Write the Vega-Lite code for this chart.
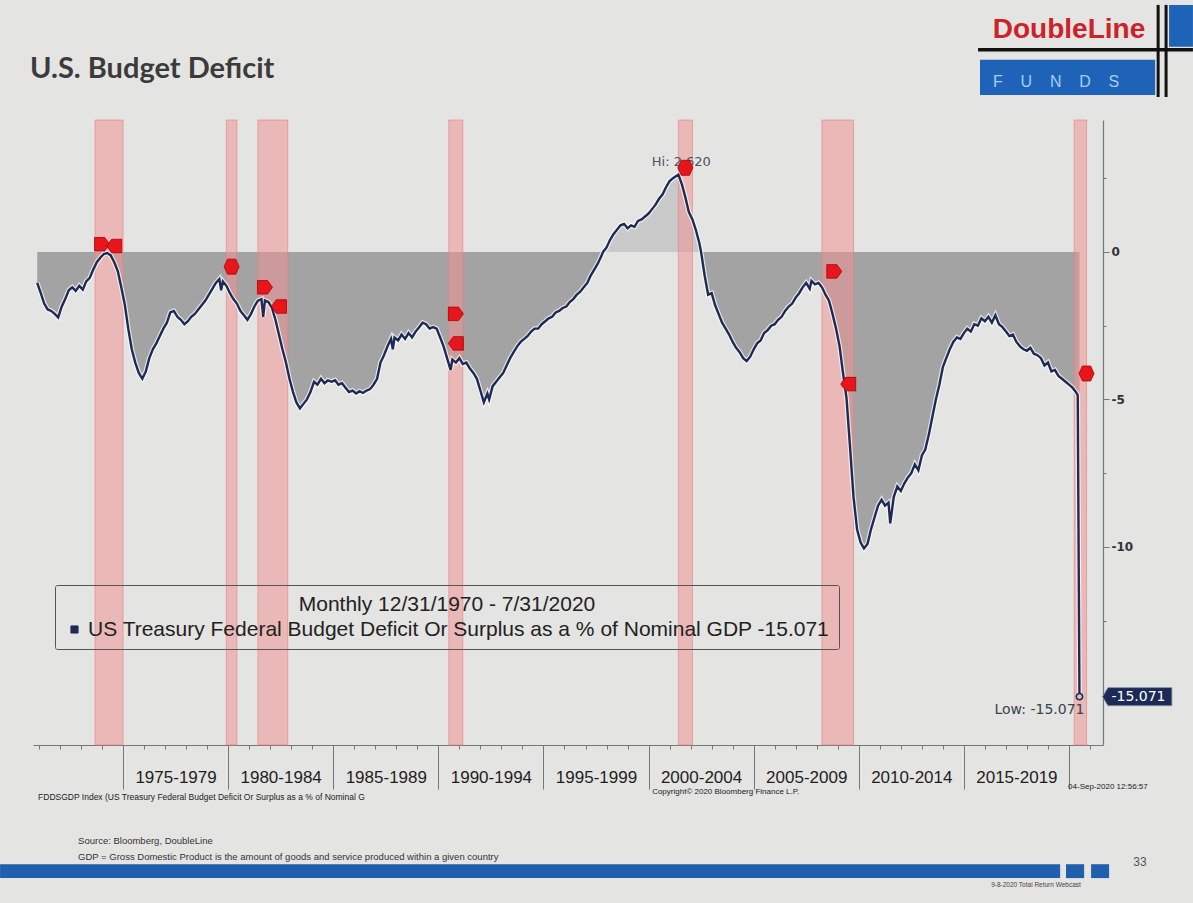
{
"$schema": "https://vega.github.io/schema/vega-lite/v6.json",
"width": 1070,
"height": 625,
"autosize": {"type": "none"},
"padding": {"left": 33, "top": 120, "right": 90, "bottom": 158},
"background": "#e4e4e2",
"config": {"view": {"stroke": null}, "axis": {"grid": false}},
"datasets": {
"series": [
{"d":"1970-12","v":-1.05},{"d":"1971-02","v":-1.4},{"d":"1971-04","v":-1.75},{"d":"1971-06","v":-1.95},{"d":"1971-08","v":-2.0},{"d":"1971-10","v":-2.1},{"d":"1971-12","v":-2.22},
{"d":"1972-02","v":-1.85},{"d":"1972-04","v":-1.6},{"d":"1972-06","v":-1.3},{"d":"1972-08","v":-1.2},{"d":"1972-10","v":-1.32},{"d":"1972-12","v":-1.15},
{"d":"1973-02","v":-1.28},{"d":"1973-04","v":-1.0},{"d":"1973-06","v":-0.88},{"d":"1973-08","v":-0.6},{"d":"1973-10","v":-0.35},{"d":"1973-12","v":-0.2},
{"d":"1974-02","v":-0.07},{"d":"1974-04","v":-0.04},{"d":"1974-06","v":-0.12},{"d":"1974-08","v":-0.35},{"d":"1974-10","v":-0.65},{"d":"1974-12","v":-1.2},
{"d":"1975-02","v":-1.8},{"d":"1975-04","v":-2.6},{"d":"1975-06","v":-3.3},{"d":"1975-08","v":-3.75},{"d":"1975-10","v":-4.1},{"d":"1975-12","v":-4.3},
{"d":"1976-02","v":-4.05},{"d":"1976-04","v":-3.6},{"d":"1976-06","v":-3.3},{"d":"1976-08","v":-3.1},{"d":"1976-10","v":-2.85},{"d":"1976-12","v":-2.6},
{"d":"1977-02","v":-2.4},{"d":"1977-04","v":-2.05},{"d":"1977-06","v":-2.0},{"d":"1977-08","v":-2.2},{"d":"1977-10","v":-2.3},{"d":"1977-12","v":-2.45},
{"d":"1978-02","v":-2.35},{"d":"1978-04","v":-2.2},{"d":"1978-06","v":-2.1},{"d":"1978-08","v":-1.95},{"d":"1978-10","v":-1.8},{"d":"1978-12","v":-1.65},
{"d":"1979-02","v":-1.45},{"d":"1979-04","v":-1.25},{"d":"1979-06","v":-1.05},{"d":"1979-08","v":-0.92},{"d":"1979-09","v":-1.3},{"d":"1979-10","v":-1.0},{"d":"1979-12","v":-1.15},
{"d":"1980-02","v":-1.4},{"d":"1980-04","v":-1.6},{"d":"1980-06","v":-1.75},{"d":"1980-08","v":-2.0},{"d":"1980-10","v":-2.15},{"d":"1980-12","v":-2.3},
{"d":"1981-02","v":-2.1},{"d":"1981-04","v":-1.85},{"d":"1981-06","v":-1.65},{"d":"1981-08","v":-1.6},{"d":"1981-09","v":-2.2},{"d":"1981-10","v":-1.65},{"d":"1981-12","v":-1.7},
{"d":"1982-02","v":-1.9},{"d":"1982-04","v":-2.3},{"d":"1982-06","v":-2.8},{"d":"1982-08","v":-3.3},{"d":"1982-10","v":-3.75},{"d":"1982-12","v":-4.3},
{"d":"1983-02","v":-4.75},{"d":"1983-04","v":-5.1},{"d":"1983-06","v":-5.3},{"d":"1983-08","v":-5.15},{"d":"1983-10","v":-5.0},{"d":"1983-12","v":-4.75},
{"d":"1984-02","v":-4.4},{"d":"1984-04","v":-4.5},{"d":"1984-06","v":-4.3},{"d":"1984-08","v":-4.45},{"d":"1984-10","v":-4.35},{"d":"1984-12","v":-4.4},
{"d":"1985-02","v":-4.35},{"d":"1985-04","v":-4.5},{"d":"1985-06","v":-4.45},{"d":"1985-08","v":-4.6},{"d":"1985-10","v":-4.75},{"d":"1985-12","v":-4.7},
{"d":"1986-02","v":-4.8},{"d":"1986-04","v":-4.72},{"d":"1986-06","v":-4.78},{"d":"1986-08","v":-4.7},{"d":"1986-10","v":-4.65},{"d":"1986-12","v":-4.5},
{"d":"1987-02","v":-4.3},{"d":"1987-04","v":-3.75},{"d":"1987-06","v":-3.5},{"d":"1987-08","v":-3.2},{"d":"1987-10","v":-2.95},{"d":"1987-11","v":-3.3},{"d":"1987-12","v":-2.9},
{"d":"1988-02","v":-3.0},{"d":"1988-04","v":-2.8},{"d":"1988-06","v":-2.95},{"d":"1988-08","v":-2.75},{"d":"1988-10","v":-2.9},{"d":"1988-12","v":-2.7},
{"d":"1989-02","v":-2.55},{"d":"1989-04","v":-2.4},{"d":"1989-06","v":-2.45},{"d":"1989-08","v":-2.6},{"d":"1989-10","v":-2.55},{"d":"1989-12","v":-2.6},
{"d":"1990-02","v":-2.9},{"d":"1990-04","v":-3.2},{"d":"1990-06","v":-3.6},{"d":"1990-08","v":-4.0},{"d":"1990-09","v":-3.65},{"d":"1990-11","v":-3.75},
{"d":"1991-01","v":-3.6},{"d":"1991-03","v":-3.8},{"d":"1991-05","v":-3.75},{"d":"1991-07","v":-3.95},{"d":"1991-09","v":-4.1},{"d":"1991-11","v":-4.3},
{"d":"1992-01","v":-4.7},{"d":"1992-03","v":-5.1},{"d":"1992-05","v":-4.8},{"d":"1992-06","v":-5.0},{"d":"1992-08","v":-4.55},{"d":"1992-10","v":-4.4},{"d":"1992-12","v":-4.25},
{"d":"1993-02","v":-4.1},{"d":"1993-04","v":-3.85},{"d":"1993-06","v":-3.6},{"d":"1993-08","v":-3.4},{"d":"1993-10","v":-3.2},{"d":"1993-12","v":-3.05},
{"d":"1994-02","v":-2.95},{"d":"1994-04","v":-2.85},{"d":"1994-06","v":-2.7},{"d":"1994-08","v":-2.6},{"d":"1994-10","v":-2.6},{"d":"1994-12","v":-2.45},
{"d":"1995-02","v":-2.35},{"d":"1995-04","v":-2.25},{"d":"1995-06","v":-2.2},{"d":"1995-08","v":-2.05},{"d":"1995-10","v":-2.0},{"d":"1995-12","v":-1.9},
{"d":"1996-02","v":-1.85},{"d":"1996-04","v":-1.7},{"d":"1996-06","v":-1.6},{"d":"1996-08","v":-1.45},{"d":"1996-10","v":-1.35},{"d":"1996-12","v":-1.2},
{"d":"1997-02","v":-1.05},{"d":"1997-04","v":-0.8},{"d":"1997-06","v":-0.6},{"d":"1997-08","v":-0.4},{"d":"1997-10","v":-0.15},{"d":"1997-11","v":0},
{"d":"1998-01","v":0.15},{"d":"1998-03","v":0.4},{"d":"1998-05","v":0.6},{"d":"1998-07","v":0.75},{"d":"1998-09","v":0.9},{"d":"1998-11","v":0.95},
{"d":"1999-01","v":0.8},{"d":"1999-03","v":0.9},{"d":"1999-05","v":0.85},{"d":"1999-07","v":1.05},{"d":"1999-09","v":1.1},{"d":"1999-11","v":1.2},
{"d":"2000-01","v":1.3},{"d":"2000-03","v":1.45},{"d":"2000-05","v":1.6},{"d":"2000-07","v":1.8},{"d":"2000-09","v":1.95},{"d":"2000-11","v":2.2},
{"d":"2001-01","v":2.4},{"d":"2001-03","v":2.5},{"d":"2001-06","v":2.62},{"d":"2001-08","v":2.3},{"d":"2001-10","v":1.85},{"d":"2001-12","v":1.35},
{"d":"2002-02","v":1.1},{"d":"2002-04","v":0.75},{"d":"2002-06","v":0.3},{"d":"2002-07","v":0},{"d":"2002-09","v":-0.8},{"d":"2002-11","v":-1.45},
{"d":"2003-01","v":-1.4},{"d":"2003-03","v":-1.8},{"d":"2003-05","v":-2.1},{"d":"2003-07","v":-2.4},{"d":"2003-09","v":-2.6},{"d":"2003-11","v":-2.8},
{"d":"2004-01","v":-3.05},{"d":"2004-03","v":-3.25},{"d":"2004-05","v":-3.4},{"d":"2004-07","v":-3.6},{"d":"2004-09","v":-3.7},{"d":"2004-11","v":-3.55},
{"d":"2005-01","v":-3.3},{"d":"2005-03","v":-3.1},{"d":"2005-05","v":-3.0},{"d":"2005-07","v":-2.75},{"d":"2005-09","v":-2.65},{"d":"2005-11","v":-2.5},
{"d":"2006-01","v":-2.45},{"d":"2006-03","v":-2.3},{"d":"2006-05","v":-2.2},{"d":"2006-07","v":-2.0},{"d":"2006-09","v":-1.85},{"d":"2006-11","v":-1.75},
{"d":"2007-01","v":-1.55},{"d":"2007-03","v":-1.4},{"d":"2007-05","v":-1.2},{"d":"2007-07","v":-1.05},{"d":"2007-09","v":-1.25},{"d":"2007-10","v":-0.98},{"d":"2007-12","v":-1.1},
{"d":"2008-02","v":-1.05},{"d":"2008-04","v":-1.2},{"d":"2008-06","v":-1.45},{"d":"2008-08","v":-1.65},{"d":"2008-10","v":-2.1},{"d":"2008-12","v":-2.6},
{"d":"2009-02","v":-3.2},{"d":"2009-04","v":-4.1},{"d":"2009-06","v":-4.95},{"d":"2009-08","v":-6.6},{"d":"2009-10","v":-8.3},{"d":"2009-12","v":-9.4},
{"d":"2010-02","v":-9.85},{"d":"2010-04","v":-10.05},{"d":"2010-06","v":-9.9},{"d":"2010-08","v":-9.4},{"d":"2010-10","v":-9.0},{"d":"2010-12","v":-8.6},
{"d":"2011-02","v":-8.4},{"d":"2011-04","v":-8.6},{"d":"2011-06","v":-8.5},{"d":"2011-07","v":-9.2},{"d":"2011-09","v":-8.3},{"d":"2011-11","v":-7.95},
{"d":"2012-01","v":-8.1},{"d":"2012-03","v":-7.85},{"d":"2012-05","v":-7.65},{"d":"2012-07","v":-7.5},{"d":"2012-09","v":-7.2},{"d":"2012-11","v":-7.4},
{"d":"2013-01","v":-6.9},{"d":"2013-03","v":-6.7},{"d":"2013-05","v":-6.2},{"d":"2013-07","v":-5.6},{"d":"2013-09","v":-5.0},{"d":"2013-11","v":-4.5},
{"d":"2014-01","v":-3.9},{"d":"2014-03","v":-3.6},{"d":"2014-05","v":-3.3},{"d":"2014-07","v":-3.05},{"d":"2014-09","v":-2.9},{"d":"2014-11","v":-2.95},
{"d":"2015-01","v":-2.75},{"d":"2015-03","v":-2.6},{"d":"2015-05","v":-2.7},{"d":"2015-07","v":-2.45},{"d":"2015-09","v":-2.5},{"d":"2015-11","v":-2.25},
{"d":"2016-01","v":-2.35},{"d":"2016-03","v":-2.2},{"d":"2016-05","v":-2.4},{"d":"2016-07","v":-2.15},{"d":"2016-09","v":-2.45},{"d":"2016-11","v":-2.55},
{"d":"2017-01","v":-2.7},{"d":"2017-03","v":-2.85},{"d":"2017-05","v":-2.8},{"d":"2017-07","v":-3.05},{"d":"2017-09","v":-3.2},{"d":"2017-11","v":-3.3},
{"d":"2018-01","v":-3.35},{"d":"2018-03","v":-3.25},{"d":"2018-05","v":-3.45},{"d":"2018-07","v":-3.5},{"d":"2018-09","v":-3.6},{"d":"2018-11","v":-3.85},
{"d":"2019-01","v":-3.75},{"d":"2019-03","v":-4.05},{"d":"2019-05","v":-4.0},{"d":"2019-07","v":-4.2},{"d":"2019-09","v":-4.3},{"d":"2019-11","v":-4.4},
{"d":"2020-01","v":-4.5},{"d":"2020-03","v":-4.6},{"d":"2020-05","v":-4.75},{"d":"2020-06","v":-4.85},{"d":"2020-07","v":-15.071}
],
"bands": [
{"s":"1973-09","e":"1975-01"},{"s":"1979-12","e":"1980-06"},{"s":"1981-06","e":"1982-11"},{"s":"1990-07","e":"1991-03"},{"s":"2001-06","e":"2002-02"},{"s":"2008-04","e":"2009-10"},{"s":"2020-04","e":"2020-11"}
],
"flags": [
{"d":"1974-01","v":0.26,"k":"r"},{"d":"1974-08","v":0.2,"k":"l"},{"d":"1980-03","v":-0.5,"k":"d"},{"d":"1981-10","v":-1.2,"k":"r"},{"d":"1982-06","v":-1.85,"k":"l"},
{"d":"1990-11","v":-2.1,"k":"r"},{"d":"1990-11","v":-3.1,"k":"l"},{"d":"2001-10","v":2.85,"k":"d"},{"d":"2008-11","v":-0.66,"k":"r"},{"d":"2009-07","v":-4.48,"k":"l"},{"d":"2020-11","v":-4.12,"k":"d"}
]
},
"layer": [
{"data": {"name": "series"}, "transform": [{"filter": "datum.v <= 0"}],
 "mark": {"type": "area", "color": "#a3a3a3", "opacity": 1},
 "encoding": {
  "x": {"field": "d", "type": "temporal", "title": null,
   "scale": {"type": "utc", "nice": false, "domain": [{"year": 1970, "month": 9, "date": 19, "utc": true}, {"year": 2021, "month": 8, "date": 14, "utc": true}]},
   "axis": {"tickCount": {"interval": "year", "step": 1}, "labelOverlap": false, "labelFlush": false,
    "labelExpr": "utcyear(datum.value) % 5 == 0 && utcyear(datum.value) < 2020 ? utcyear(datum.value) + '-' + (utcyear(datum.value) + 4) : ''",
    "labelOffset": 52.5, "labelPadding": -20, "labelFont": "Liberation Sans", "labelFontSize": 17, "labelColor": "#1e1e1e",
    "tickSize": {"condition": {"test": "utcyear(datum.value) % 5 == 0", "value": 44}, "value": 4},
    "tickColor": "#777", "domainColor": "#777", "domainWidth": 1.2}},
  "y": {"field": "v", "type": "quantitative", "title": null,
   "scale": {"domain": [-16.71, 4.47], "nice": false, "zero": false},
   "axis": {"orient": "right", "values": [2.5, 0, -2.5, -5, -7.5, -10, -12.5],
    "labelExpr": "datum.value == 0 ? '0' : (datum.value % 5 == 0 ? '-' + abs(datum.value) : '')",
    "tickSize": {"condition": {"test": "datum.value % 5 == 0", "value": 6}, "value": 3},
    "labelFont": "DejaVu Sans", "labelFontSize": 12, "labelFontWeight": "bold", "labelColor": "#333", "labelPadding": 2,
    "tickColor": "#777", "domainColor": "#777", "domainWidth": 1.2}},
  "y2": {"datum": 0}}},
{"data": {"name": "series"}, "transform": [{"filter": "datum.v >= 0"}],
 "mark": {"type": "area", "color": "#c9c9c9", "opacity": 1},
 "encoding": {"x": {"field": "d", "type": "temporal"}, "y": {"field": "v", "type": "quantitative"}, "y2": {"datum": 0}}},
{"data": {"name": "bands"},
 "mark": {"type": "rect", "fill": "#ef9494", "fillOpacity": 0.55, "stroke": "#e58080", "strokeOpacity": 0.6, "strokeWidth": 1},
 "encoding": {"x": {"field": "s", "type": "temporal"}, "x2": {"field": "e"}}},
{"data": {"name": "series"},
 "mark": {"type": "line", "color": "#ffffff", "strokeWidth": 4.8, "opacity": 0.7},
 "encoding": {"x": {"field": "d", "type": "temporal"}, "y": {"field": "v", "type": "quantitative"}}},
{"data": {"name": "series"},
 "mark": {"type": "line", "strokeWidth": 2.4},
 "encoding": {"x": {"field": "d", "type": "temporal"}, "y": {"field": "v", "type": "quantitative"},
  "color": {"datum": "US Treasury Federal Budget Deficit Or Surplus as a % of Nominal GDP -15.071",
   "scale": {"range": ["#1c2a55"]},
   "legend": {"orient": "none", "legendX": 22, "legendY": 465, "title": "Monthly 12/31/1970 - 7/31/2020",
    "titleFont": "Liberation Sans", "titleFontSize": 21, "titleFontWeight": "normal", "titleColor": "#222", "titleAnchor": "middle", "titlePadding": 4, "titleLimit": 0,
    "labelFont": "Liberation Sans", "labelFontSize": 21, "labelColor": "#222", "labelLimit": 0, "labelOffset": 3,
    "symbolType": "square", "symbolSize": 50, "symbolFillColor": "#1c2a55", "symbolStrokeColor": "#1c2a55", "symbolStrokeWidth": 1,
    "strokeColor": "#555", "padding": 9, "cornerRadius": 2}}}},
{"data": {"name": "series"}, "transform": [{"filter": "datum.v == 2.62"}],
 "mark": {"type": "text", "text": "Hi: 2.620", "dx": 3, "dy": -13, "align": "center", "baseline": "middle", "font": "DejaVu Sans", "fontSize": 13, "color": "#4b5262"},
 "encoding": {"x": {"field": "d", "type": "temporal"}, "y": {"field": "v", "type": "quantitative"}}},
{"data": {"name": "flags"},
 "mark": {"type": "point", "filled": true, "fill": "#e8161c", "stroke": "#a80000", "strokeWidth": 0.8, "size": 225, "opacity": 1},
 "encoding": {"x": {"field": "d", "type": "temporal"}, "y": {"field": "v", "type": "quantitative"},
  "shape": {"field": "k", "type": "nominal", "legend": null,
   "scale": {"domain": ["r", "l", "d"], "range": ["M-1,-0.9L0.35,-0.9L1,0L0.35,0.9L-1,0.9Z", "M1,-0.9L-0.35,-0.9L-1,0L-0.35,0.9L1,0.9Z", "M-1,0L-0.55,-1L0.55,-1L1,0L0.55,1L-0.55,1Z"]}}}},
{"data": {"name": "series"}, "transform": [{"filter": "datum.v < -15"}],
 "mark": {"type": "point", "shape": "circle", "filled": true, "fill": "#c8c8c8", "stroke": "#1c2a55", "strokeWidth": 1.5, "size": 40, "opacity": 1},
 "encoding": {"x": {"field": "d", "type": "temporal"}, "y": {"field": "v", "type": "quantitative"}}},
{"data": {"name": "series"}, "transform": [{"filter": "datum.v < -15"}],
 "mark": {"type": "text", "text": "Low: -15.071", "dx": 5, "dy": 13, "align": "right", "baseline": "middle", "font": "DejaVu Sans", "fontSize": 14, "color": "#3c4150"},
 "encoding": {"x": {"field": "d", "type": "temporal"}, "y": {"field": "v", "type": "quantitative"}}},
{"data": {"name": "series"}, "transform": [{"filter": "datum.v < -15"}],
 "mark": {"type": "point", "shape": "M-4.1,0L-3.5,-1L3.6,-1L3.6,1L-3.5,1Z", "filled": true, "fill": "#1c2a55", "stroke": "#7d88a0", "strokeWidth": 0.8, "size": 324, "xOffset": 60, "opacity": 1},
 "encoding": {"x": {"field": "d", "type": "temporal"}, "y": {"field": "v", "type": "quantitative"}}},
{"data": {"name": "series"}, "transform": [{"filter": "datum.v < -15"}],
 "mark": {"type": "text", "text": "-15.071", "dx": 59, "align": "center", "baseline": "middle", "font": "DejaVu Sans", "fontSize": 14, "color": "#ffffff"},
 "encoding": {"x": {"field": "d", "type": "temporal"}, "y": {"field": "v", "type": "quantitative"}}},
{"data": {"values": [{}]},
 "layer": [
  {"mark": {"type": "text", "text": "U.S. Budget Deficit", "align": "left", "baseline": "alphabetic", "font": "Lato", "fontSize": 29, "fontWeight": "bold", "color": "#3b3b3b"},
   "encoding": {"x": {"datum": {"year": 1970, "month": 7, "date": 29, "utc": true}, "type": "temporal"}, "y": {"datum": 5.9}}},
  {"mark": {"type": "text", "text": "DoubleLine", "align": "center", "baseline": "alphabetic", "font": "Liberation Sans", "fontSize": 28, "fontWeight": "bold", "color": "#cc2229"},
   "encoding": {"x": {"datum": {"year": 2020, "month": 1, "date": 1, "utc": true}, "type": "temporal"}, "y": {"datum": 7.25}}},
  {"mark": {"type": "rule", "color": "#111111", "strokeWidth": 3.5},
   "encoding": {"x": {"datum": {"year": 2015, "month": 9, "date": 4, "utc": true}, "type": "temporal"}, "x2": {"datum": {"year": 2025, "month": 11, "date": 24, "utc": true}}, "y": {"datum": 6.85}}},
  {"mark": {"type": "rect", "color": "#1e63b8", "opacity": 1},
   "encoding": {"x": {"datum": {"year": 2015, "month": 10, "date": 8, "utc": true}, "type": "temporal"}, "x2": {"datum": {"year": 2024, "month": 2, "date": 6, "utc": true}}, "y": {"datum": 6.51}, "y2": {"datum": 5.32}}},
  {"mark": {"type": "rect", "color": "#1e63b8", "opacity": 1},
   "encoding": {"x": {"datum": {"year": 2024, "month": 10, "date": 5, "utc": true}, "type": "temporal"}, "x2": {"datum": {"year": 2025, "month": 11, "date": 24, "utc": true}}, "y": {"datum": 8.37}, "y2": {"datum": 6.95}}},
  {"mark": {"type": "rule", "color": "#111111", "strokeWidth": 3},
   "encoding": {"x": {"datum": {"year": 2024, "month": 3, "date": 29, "utc": true}, "type": "temporal"}, "y": {"datum": 8.37}, "y2": {"datum": 5.25}}},
  {"mark": {"type": "rule", "color": "#111111", "strokeWidth": 3},
   "encoding": {"x": {"datum": {"year": 2024, "month": 8, "date": 14, "utc": true}, "type": "temporal"}, "y": {"datum": 8.37}, "y2": {"datum": 5.25}}},
  {"mark": {"type": "text", "text": "F\u00a0\u00a0\u00a0\u00a0U\u00a0\u00a0\u00a0\u00a0N\u00a0\u00a0\u00a0\u00a0D\u00a0\u00a0\u00a0\u00a0S", "align": "center", "baseline": "alphabetic", "font": "Liberation Sans", "fontSize": 16, "color": "#a9cdf2"},
   "encoding": {"x": {"datum": {"year": 2019, "month": 5, "date": 22, "utc": true}, "type": "temporal"}, "y": {"datum": 5.59}}},
  {"mark": {"type": "text", "text": "FDDSGDP Index (US Treasury Federal Budget Deficit Or Surplus as a % of Nominal G", "align": "left", "baseline": "alphabetic", "font": "Liberation Sans", "fontSize": 8.5, "color": "#222"},
   "encoding": {"x": {"datum": {"year": 1970, "month": 12, "date": 16, "utc": true}, "type": "temporal"}, "y": {"datum": -18.58}}},
  {"mark": {"type": "text", "text": "Copyright\u00a9 2020 Bloomberg Finance L.P.", "align": "left", "baseline": "alphabetic", "font": "Liberation Sans", "fontSize": 8, "color": "#222"},
   "encoding": {"x": {"datum": {"year": 2000, "month": 3, "date": 3, "utc": true}, "type": "temporal"}, "y": {"datum": -18.37}}},
  {"mark": {"type": "text", "text": "04-Sep-2020 12:56:57", "align": "left", "baseline": "alphabetic", "font": "Liberation Sans", "fontSize": 8, "color": "#222"},
   "encoding": {"x": {"datum": {"year": 2019, "month": 12, "date": 17, "utc": true}, "type": "temporal"}, "y": {"datum": -18.2}}},
  {"mark": {"type": "text", "text": "Source: Bloomberg, DoubleLine", "align": "left", "baseline": "alphabetic", "font": "Liberation Sans", "fontSize": 9.5, "color": "#333"},
   "encoding": {"x": {"datum": {"year": 1972, "month": 11, "date": 10, "utc": true}, "type": "temporal"}, "y": {"datum": -20.05}}},
  {"mark": {"type": "text", "text": "GDP = Gross Domestic Product is the amount of goods and service produced within a given country", "align": "left", "baseline": "alphabetic", "font": "Liberation Sans", "fontSize": 9.5, "color": "#333"},
   "encoding": {"x": {"datum": {"year": 1972, "month": 11, "date": 10, "utc": true}, "type": "temporal"}, "y": {"datum": -20.61}}},
  {"mark": {"type": "rect", "color": "#1f5fae", "opacity": 1},
   "encoding": {"x": {"datum": {"year": 1969, "month": 2, "date": 24, "utc": true}, "type": "temporal"}, "x2": {"datum": {"year": 2019, "month": 7, "date": 31, "utc": true}}, "y": {"datum": -20.75}, "y2": {"datum": -21.22}}},
  {"mark": {"type": "rect", "color": "#1f5fae", "opacity": 1},
   "encoding": {"x": {"datum": {"year": 2019, "month": 11, "date": 10, "utc": true}, "type": "temporal"}, "x2": {"datum": {"year": 2020, "month": 9, "date": 20, "utc": true}}, "y": {"datum": -20.75}, "y2": {"datum": -21.22}}},
  {"mark": {"type": "rect", "color": "#1f5fae", "opacity": 1},
   "encoding": {"x": {"datum": {"year": 2021, "month": 1, "date": 19, "utc": true}, "type": "temporal"}, "x2": {"datum": {"year": 2021, "month": 11, "date": 28, "utc": true}}, "y": {"datum": -20.75}, "y2": {"datum": -21.22}}},
  {"mark": {"type": "text", "text": "33", "align": "center", "baseline": "middle", "font": "Liberation Sans", "fontSize": 12, "color": "#555"},
   "encoding": {"x": {"datum": {"year": 2023, "month": 5, "date": 19, "utc": true}, "type": "temporal"}, "y": {"datum": -20.68}}},
  {"mark": {"type": "text", "text": "9-8-2020 Total Return Webcast", "align": "center", "baseline": "alphabetic", "font": "Liberation Sans", "fontSize": 6.5, "color": "#444"},
   "encoding": {"x": {"datum": {"year": 2018, "month": 6, "date": 7, "utc": true}, "type": "temporal"}, "y": {"datum": -21.53}}}
 ]}
]
}
